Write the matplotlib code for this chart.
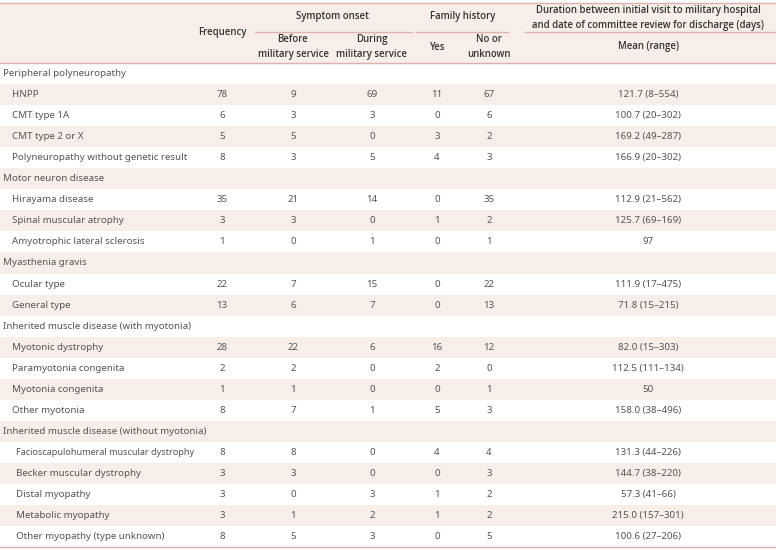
import matplotlib
matplotlib.use("Agg")
import matplotlib.pyplot as plt

# table content
groups = [
    "Peripheral polyneuropathy",
    "Motor neuron disease",
    "Myasthenia gravis",
    "Inherited muscle disease (with myotonia)",
    "Inherited muscle disease (without myotonia)",
]
diseases = [
    ["HNPP", "CMT type 1A", "CMT type 2 or X", "Polyneuropathy without genetic result"],
    ["Hirayama disease", "Spinal muscular atrophy", "Amyotrophic lateral sclerosis"],
    ["Ocular type", "General type"],
    ["Myotonic dystrophy", "Paramyotonia congenita", "Myotonia congenita", "Other myotonia"],
    ["Facioscapulohumeral muscular dystrophy", "Becker muscular dystrophy", "Distal myopathy",
     "Metabolic myopathy", "Other myopathy (type unknown)"],
]
frequency = [[78, 6, 5, 8], [35, 3, 1], [22, 13], [28, 2, 1, 8], [8, 3, 3, 3, 8]]
before_service = [[9, 3, 5, 3], [21, 3, 0], [7, 6], [22, 2, 1, 7], [8, 3, 0, 1, 5]]
during_service = [[69, 3, 0, 5], [14, 0, 1], [15, 7], [6, 0, 0, 1], [0, 0, 3, 2, 3]]
family_yes = [[11, 0, 3, 4], [0, 1, 0], [0, 0], [16, 2, 0, 5], [4, 0, 1, 1, 0]]
family_no = [[67, 6, 2, 3], [35, 2, 1], [22, 13], [12, 0, 1, 3], [4, 3, 2, 2, 5]]
duration = [
    ["121.7 (8\u2013554)", "100.7 (20\u2013302)", "169.2 (49\u2013287)", "166.9 (20\u2013302)"],
    ["112.9 (21\u2013562)", "125.7 (69\u2013169)", "97"],
    ["111.9 (17\u2013475)", "71.8 (15\u2013215)"],
    ["82.0 (15\u2013303)", "112.5 (111\u2013134)", "50", "158.0 (38\u2013496)"],
    ["131.3 (44\u2013226)", "144.7 (38\u2013220)", "57.3 (41\u201366)", "215.0 (157\u2013301)", "100.6 (27\u2013206)"],
]

W, H = 776, 550
line_col = "#e4aeaa"
shade = "#f7eeea"
txt_col = "#555555"
head_col = "#333333"
plt.rcParams['font.family'] = ['Noto Sans', 'DejaVu Sans']

fig = plt.figure(figsize=(W / 100, H / 100), dpi=100)
ax = fig.add_axes([0, 0, 1, 1])
ax.set_xlim(0, W)
ax.set_ylim(H, 0)
ax.axis("off")

col_x = [222, 293, 372, 437, 489, 648]
top, sub, head_bot = 3, 32, 63
row_h = 21.05

# header
ax.axhspan(top, head_bot, color=shade, lw=0, zorder=0)
ax.plot([0, W], [top, top], color=line_col, lw=1)
ax.plot([0, W], [head_bot, head_bot], color=line_col, lw=1)
ax.plot([255, 412], [sub, sub], color=line_col, lw=1)
ax.plot([416, 508], [sub, sub], color=line_col, lw=1)
ax.plot([525, W], [sub, sub], color=line_col, lw=1)

hkw = dict(ha="center", va="center", fontsize=6.9, color=head_col, fontweight="semibold",
           family=["Open Sans", "DejaVu Sans"])
ax.text(col_x[0], 33, "Frequency", **hkw)
ax.text((col_x[1] + col_x[2]) / 2, 17, "Symptom onset", **hkw)
ax.text((col_x[3] + col_x[4]) / 2, 17, "Family history", **hkw)
ax.text(col_x[5], 18, "Duration between initial visit to military hospital\nand date of committee review for discharge (days)",
        linespacing=1.45, **hkw)
ax.text(col_x[1], 47, "Before\nmilitary service", linespacing=1.45, **hkw)
ax.text(col_x[2], 47, "During\nmilitary service", linespacing=1.45, **hkw)
ax.text(col_x[3], 47, "Yes", **hkw)
ax.text(col_x[4], 47, "No or\nunknown", linespacing=1.45, **hkw)
ax.text(col_x[5], 47, "Mean (range)", **hkw)

# body
dkw = dict(va="center", color=txt_col)
r = 0
for g, name in enumerate(groups):
    y0 = head_bot + r * row_h
    if r % 2 == 1:
        ax.axhspan(y0, y0 + row_h, color=shade, lw=0, zorder=0)
    ax.text(3, y0 + row_h / 2, name, ha="left", fontsize=7, **dkw)
    r += 1
    indent = 16 if g == len(groups) - 1 else 12
    for i, d in enumerate(diseases[g]):
        y0 = head_bot + r * row_h
        if r % 2 == 1:
            ax.axhspan(y0, y0 + row_h, color=shade, lw=0, zorder=0)
        yc = y0 + row_h / 2
        fs = 6.5 if d.startswith("Facio") else 7
        ax.text(indent, yc, d, ha="left", fontsize=fs, **dkw)
        vals = [frequency[g][i], before_service[g][i], during_service[g][i],
                family_yes[g][i], family_no[g][i], duration[g][i]]
        for x, v in zip(col_x, vals):
            ax.text(x, yc, str(v), ha="center", fontsize=7, **dkw)
        r += 1

bottom = head_bot + r * row_h
ax.plot([0, W], [bottom, bottom], color=line_col, lw=1)

fig.savefig("out.png", dpi=100)
